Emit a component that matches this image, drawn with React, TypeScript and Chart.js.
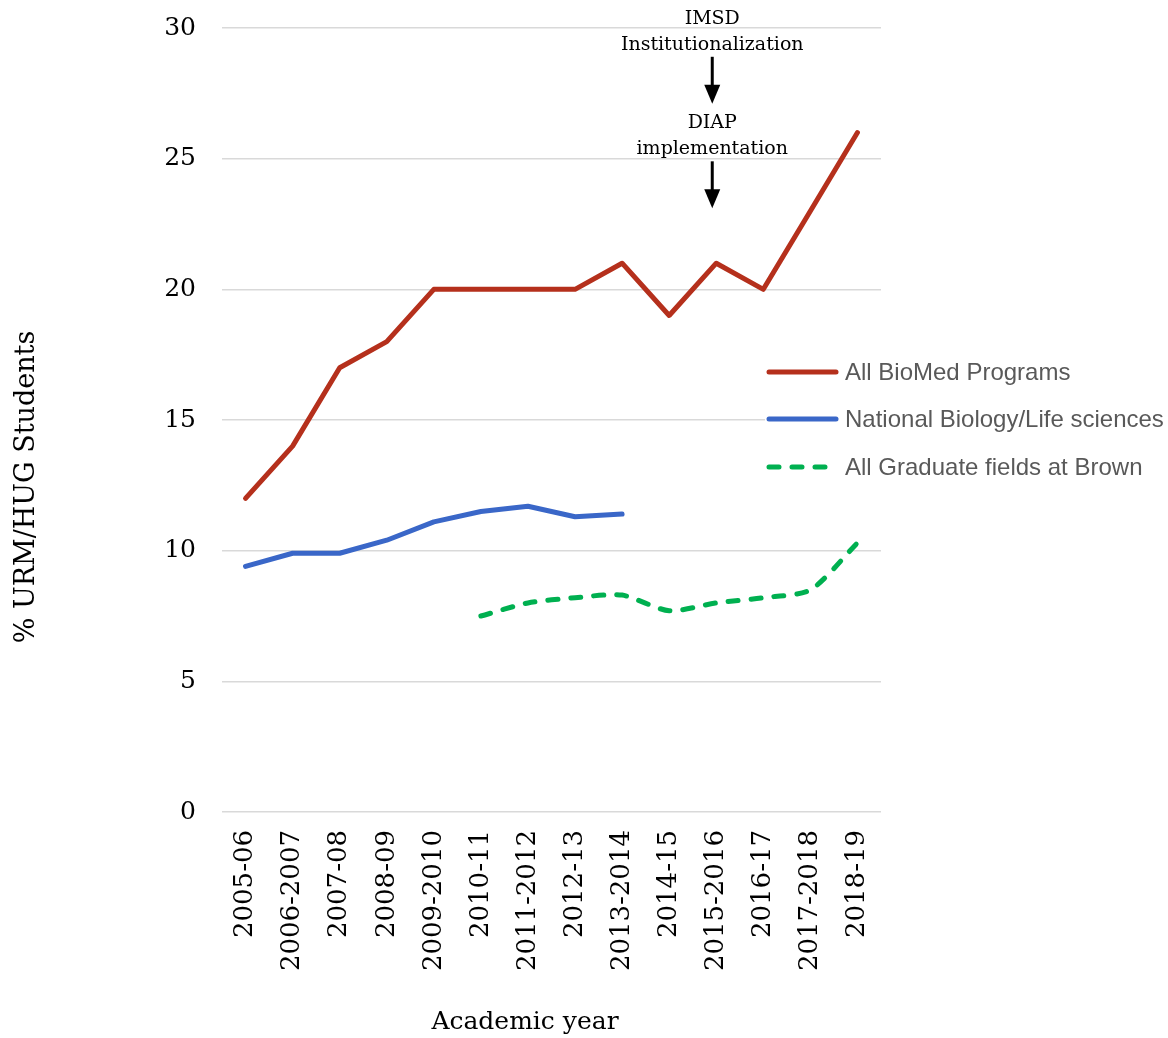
import React, { useEffect, useRef } from "react";
import { Chart, registerables } from "chart.js";

Chart.register(...registerables);

const categories = [
  "2005-06", "2006-2007", "2007-08", "2008-09", "2009-2010", "2010-11", "2011-2012",
  "2012-13", "2013-2014", "2014-15", "2015-2016", "2016-17", "2017-2018", "2018-19",
];
const bioMed = [12, 14, 17, 18, 20, 20, 20, 20, 21, 19, 21, 20, 23, 26];
const nationalBio = [9.4, 9.9, 9.9, 10.4, 11.1, 11.5, 11.7, 11.3, 11.4, null, null, null, null, null];
const brownGrad = [null, null, null, null, null, 7.5, 8.0, 8.2, 8.3, 7.7, 8.0, 8.2, 8.5, 10.3];
const yTicks = [0, 5, 10, 15, 20, 25, 30];
const seriesNames = ["All BioMed Programs", "National Biology/Life sciences", "All Graduate fields at Brown"];
const seriesColors = ["#B5301C", "#3A67C8", "#00B050"];
const xTitle = "Academic year";
const yTitle = "% URM/HUG Students";
const annotationTexts = [
  ["IMSD", "Institutionalization"],
  ["DIAP", "implementation"],
];
const annotationTips = [27.1, 23.1];
const annotationCategory = "2015-2016";

const SERIF = '"DejaVu Serif", serif';
const SANS = '"Liberation Sans", Arial, sans-serif';

const overlayPlugin = {
  id: "overlay",
  afterDraw(chart: any) {
    const ctx = chart.ctx as CanvasRenderingContext2D;
    const xs = chart.scales.x;
    const ys = chart.scales.y;

    // axis titles
    ctx.save();
    ctx.fillStyle = "#000";
    ctx.textAlign = "center";
    ctx.textBaseline = "middle";
    ctx.font = `25px ${SERIF}`;
    ctx.fillText(xTitle, 525, 1022);
    ctx.translate(27, 487);
    ctx.rotate(-Math.PI / 2);
    ctx.font = `27px ${SERIF}`;
    ctx.fillText(yTitle, 0, 0);
    ctx.restore();

    // annotations
    const ax = xs.getPixelForValue(categories.indexOf(annotationCategory)) - 4;
    ctx.save();
    ctx.fillStyle = "#000";
    ctx.strokeStyle = "#000";
    ctx.textAlign = "center";
    ctx.textBaseline = "middle";
    ctx.font = `19px ${SERIF}`;
    annotationTexts.forEach((lines, i) => {
      const tip = ys.getPixelForValue(annotationTips[i]);
      ctx.fillText(lines[0], ax, tip - 85);
      ctx.fillText(lines[1], ax, tip - 59);
      ctx.lineWidth = 3;
      ctx.beginPath();
      ctx.moveTo(ax, tip - 47);
      ctx.lineTo(ax, tip - 16);
      ctx.stroke();
      ctx.beginPath();
      ctx.moveTo(ax - 8, tip - 19);
      ctx.lineTo(ax + 8, tip - 19);
      ctx.lineTo(ax, tip);
      ctx.closePath();
      ctx.fill();
    });
    ctx.restore();

    // legend
    ctx.save();
    ctx.fillStyle = "#fff";
    ctx.fillRect(765, 352, 120, 132);
    const ly = [372, 419, 467];
    seriesNames.forEach((name, i) => {
      ctx.strokeStyle = seriesColors[i];
      ctx.lineCap = "round";
      if (i === 2) {
        ctx.lineWidth = 5;
        ctx.setLineDash([10, 13]);
        ctx.lineDashOffset = 0;
      } else {
        ctx.lineWidth = 5;
        ctx.setLineDash([]);
      }
      ctx.beginPath();
      ctx.moveTo(769, ly[i]);
      ctx.lineTo(836, ly[i]);
      ctx.stroke();
      ctx.setLineDash([]);
      ctx.fillStyle = "#595959";
      ctx.font = `24px ${SANS}`;
      ctx.textAlign = "left";
      ctx.textBaseline = "middle";
      ctx.fillText(name, 845, ly[i] + 1);
    });
    ctx.restore();
  },
};

export default function App() {
  const canvasRef = useRef<HTMLCanvasElement | null>(null);

  useEffect(() => {
    document.body.style.margin = "0";
    const canvas = canvasRef.current;
    if (!canvas) return;
    const chart = new Chart(canvas, {
      type: "line",
      data: {
        labels: categories,
        datasets: [
          {
            label: seriesNames[0],
            data: bioMed,
            borderColor: seriesColors[0],
            backgroundColor: seriesColors[0],
            borderWidth: 5,
            pointRadius: 0,
            borderCapStyle: "round",
            borderJoinStyle: "round",
            tension: 0,
          },
          {
            label: seriesNames[1],
            data: nationalBio,
            borderColor: seriesColors[1],
            backgroundColor: seriesColors[1],
            borderWidth: 5,
            pointRadius: 0,
            borderCapStyle: "round",
            borderJoinStyle: "round",
            tension: 0,
          },
          {
            label: seriesNames[2],
            data: brownGrad,
            borderColor: seriesColors[2],
            backgroundColor: seriesColors[2],
            borderWidth: 5,
            borderDash: [10, 13],
            pointRadius: 0,
            borderCapStyle: "round",
            borderJoinStyle: "round",
            tension: 0.25,
          },
        ],
      },
      options: {
        responsive: false,
        devicePixelRatio: 1,
        animation: false,
        spanGaps: false,
        layout: { padding: { top: 28, right: 287, left: 0, bottom: 0 } },
        plugins: {
          legend: { display: false },
          tooltip: { enabled: false },
          title: { display: false },
        },
        scales: {
          x: {
            type: "category",
            offset: true,
            grid: { display: false, drawTicks: false },
            border: { display: false },
            ticks: {
              autoSkip: false,
              minRotation: 90,
              maxRotation: 90,
              padding: 18,
              color: "#000",
              font: { family: SERIF, size: 26 },
            },
            afterFit: (scale: any) => {
              scale.height = 226;
              scale.paddingLeft = 0;
              scale.paddingRight = 0;
            },
          },
          y: {
            min: 0,
            max: 30,
            grid: { color: "#D9D9D9", lineWidth: 1.5, drawTicks: false },
            border: { display: false },
            ticks: {
              stepSize: 5,
              padding: 26,
              color: "#000",
              font: { family: SERIF, size: 25 },
            },
            afterBuildTicks: (scale: any) => {
              scale.ticks = yTicks.map((v) => ({ value: v }));
            },
            afterFit: (scale: any) => {
              scale.width = 222;
              scale.paddingTop = 0;
              scale.paddingBottom = 0;
            },
          },
        },
      },
      plugins: [overlayPlugin],
    } as any);
    return () => chart.destroy();
  }, []);

  return (
    <div style={{ width: 1168, height: 1038 }}>
      <canvas ref={canvasRef} width={1168} height={1038} style={{ display: "block" }} />
    </div>
  );
}
